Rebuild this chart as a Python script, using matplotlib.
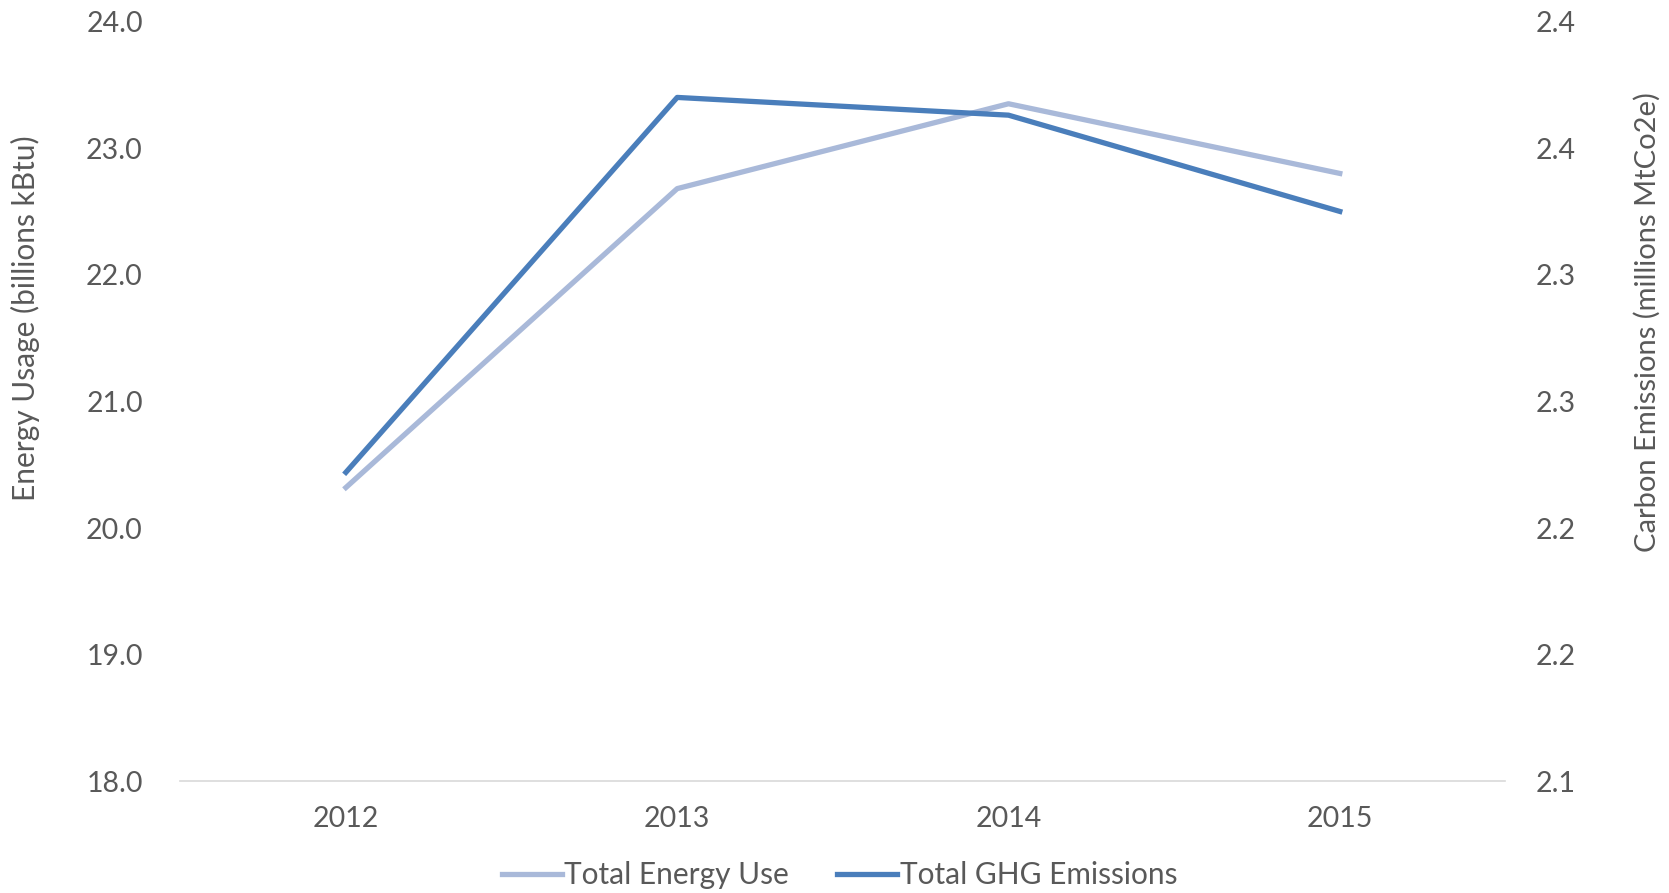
import numpy as np
import matplotlib.pyplot as plt

plt.rcParams['font.family'] = ['Lato', 'DejaVu Sans']

years = ['2012', '2013', '2014', '2015']
energy_use = [20.32, 22.68, 23.35, 22.80]      # billions kBtu
ghg_emissions = [2.222, 2.370, 2.363, 2.325]   # millions MtCo2e

left_ticks = [18.0, 19.0, 20.0, 21.0, 22.0, 23.0, 24.0]
right_ticks = [2.10, 2.15, 2.20, 2.25, 2.30, 2.35, 2.40]

txt = '#595959'
c_energy = '#A9B9D9'
c_ghg = '#4A7EBB'

fig = plt.figure(figsize=(16.69, 8.93), dpi=100)
ax = fig.add_axes([0.108, 0.125, 0.794, 0.851])
ax2 = ax.twinx()

x = np.arange(len(years))
l1, = ax.plot(x, energy_use, color=c_energy, lw=3.8, label='Total Energy Use')
l2, = ax2.plot(x, ghg_emissions, color=c_ghg, lw=3.8, label='Total GHG Emissions')

ax.set_xlim(-0.5, 3.5)
ax.set_ylim(18, 24)
ax2.set_ylim(2.1, 2.4)
ax.set_xticks(x)
ax.set_xticklabels(years)
ax.set_yticks(left_ticks)
ax.set_yticklabels(['%.1f' % v for v in left_ticks])
ax2.set_yticks(right_ticks)
ax2.set_yticklabels(['%.1f' % round(v + 1e-9, 1) for v in right_ticks])

for a in (ax, ax2):
    for s in a.spines.values():
        s.set_visible(False)
    a.tick_params(length=0, labelsize=20.5, colors=txt)
ax.spines['bottom'].set_visible(True)
ax.spines['bottom'].set_color('#D9D9D9')
ax.spines['bottom'].set_linewidth(1.2)
ax.tick_params(axis='y', pad=27)
ax2.tick_params(axis='y', pad=22)
ax.tick_params(axis='x', pad=18)

ax.set_ylabel('Energy Usage (billions kBtu)', fontsize=21.5, color=txt)
ax2.set_ylabel('Carbon Emissions (millions MtCo2e)', fontsize=21, color=txt)
ax.yaxis.set_label_coords(-0.106, 0.61)
ax2.yaxis.set_label_coords(1.097, 0.605)

fig.legend(handles=[l1, l2], loc='lower center', bbox_to_anchor=(0.503, -0.026), ncol=2,
           frameon=False, fontsize=21.5, labelcolor=txt, handlelength=2.0,
           handletextpad=0.1, columnspacing=1.6)

fig.savefig('out.png', dpi=100, facecolor='white')
